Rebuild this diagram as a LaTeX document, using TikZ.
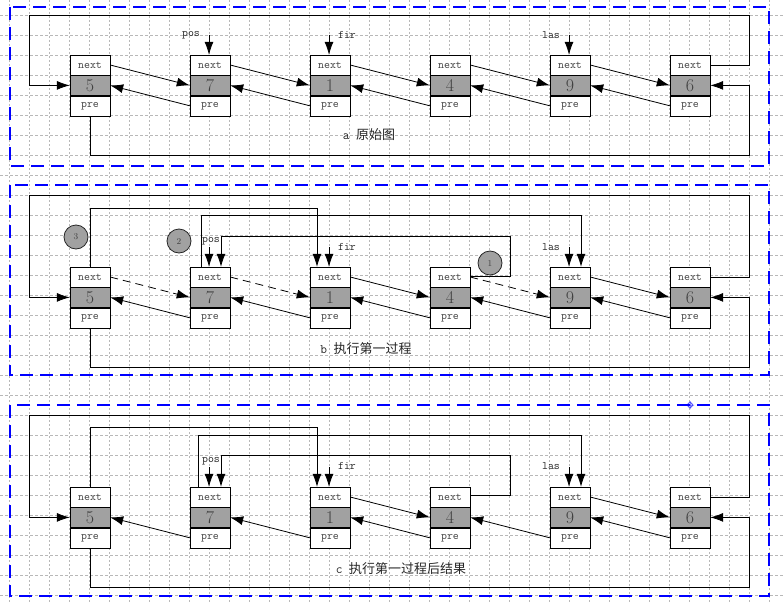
\documentclass[tikz,border=0pt]{standalone}
\usepackage{fontspec}
\newfontfamily\cjk{Noto Sans CJK SC}
\usepackage{tikz}
\usetikzlibrary{arrows.meta,positioning,calc}

\begin{document}
\begin{tikzpicture}[x=1pt,y=-1pt,
  cell/.style={draw, minimum width=40pt, minimum height=20pt, inner sep=0pt, fill=white, text=black!75, font=\ttfamily\fontsize{11.5}{11.5}\selectfont},
  valcell/.style={cell, fill=black!37, font=\rmfamily\fontsize{18}{18}\selectfont},
  arr/.style={-{Latex[length=13pt,width=9pt]}, line width=0.8pt},
  dasharr/.style={arr, dash pattern=on 8pt off 5pt},
  ptrlabel/.style={font=\ttfamily\fontsize{11.5}{11.5}\selectfont, text=black!85, inner sep=0pt},
  caption/.style={font=\ttfamily\fontsize{13}{13}\selectfont, text=black!85, inner sep=0pt},
  numcircle/.style={circle, draw=black!85, line width=0.8pt, fill=black!37, minimum size=24pt, inner sep=0pt, text=black!75, font=\rmfamily\fontsize{9}{9}\selectfont},
  frame/.style={draw=blue, line width=1.6pt, dash pattern=on 13pt off 7pt},
  gridv/.style={black!28, line width=0.6pt, dash pattern=on 2pt off 2pt},
  gridh/.style={black!28, line width=0.6pt, dash pattern=on 3pt off 2pt}]

\useasboundingbox (0,0) rectangle (783,602);
\fill[white] (0,0) rectangle (783,602);

% Grid
\foreach \x in {0,...,38} \draw[gridv] ({9.5+20*\x},0) -- ({9.5+20*\x},602);
\foreach \y in {0,...,29} \draw[gridh] (0,{15+20*\y}) -- (783,{15+20*\y});

% Panels
\draw[frame] (10,7) rectangle (769,166);
\draw[frame] (10,185) rectangle (769,375);
\draw[frame] (10,405) rectangle (769,596);
\draw[blue, line width=0.5pt] (690,405) circle (2.5pt) (686,405) -- (694,405) (690,401) -- (690,409);

% List nodes
\foreach \p/\y in {a/65,b/277,c/497} {
  \foreach \v [count=\i] in {5,7,1,4,9,6} {
    \node[cell] (\p\i-n) at ({90+120*(\i-1)},\y) {next};
    \node[valcell, below=0pt of \p\i-n] (\p\i-v) {\v};
    \node[cell, below=0pt of \p\i-v] (\p\i-p) {pre};
  }
}

% Pre links and outer loops
\foreach \p/\t/\b in {a/15/155,b/195/367,c/415/587} {
  \foreach \i [evaluate=\i as \j using int(\i+1)] in {1,...,5}
    \draw[arr] (\p\j-p.west) -- (\p\i-v.east);
  \draw[arr] (\p6-n.east) -| (749,\t) -| ([xshift=-40pt]\p1-v.west) -- (\p1-v.west);
  \draw[arr] (\p1-p.south) |- (749,\b) |- (\p6-v.east);
}

% a: original list
\foreach \i/\j in {1/2,2/3,3/4,4/5,5/6} \draw[arr] (a\i-n.east) -- (a\j-v.west);
\coordinate (apos) at (209,35);
\coordinate (afir) at (329,35);
\coordinate (alas) at (569,35);
\node[ptrlabel] (apos-l) at (191,35) {pos};
\node[ptrlabel] (afir-l) at (347,35) {fir};
\node[ptrlabel] (alas-l) at (551,35) {las};
\draw[arr] (apos) -- (apos |- a2-n.north);
\draw[arr] (afir) -- (afir |- a3-n.north);
\draw[arr] (alas) -- (alas |- a5-n.north);
\node[caption] (a-cap) at (369,135) {a {\cjk 原始图}};

% b: first step
\draw[dasharr] (b1-n.east) -- (b2-v.west);
\draw[dasharr] (b2-n.east) -- (b3-v.west);
\draw[arr] (b3-n.east) -- (b4-v.west);
\draw[dasharr] (b4-n.east) -- (b5-v.west);
\draw[arr] (b5-n.east) -- (b6-v.west);
\draw[arr] (b1-n.north) -- ++(0,-58) -| ([xshift=-13pt]b3-n.north);
\draw[arr] ([xshift=-9pt]b2-n.north) -- ++(0,-51) -| ([xshift=11pt]b5-n.north);
\draw[arr] ([yshift=1pt]b4-n.east) -- ++(40,0) -- ++(0,-40) -| ([xshift=11pt]b2-n.north);
\node[numcircle] (b-s3) at (76,237) {3};
\node[numcircle] (b-s2) at (179,241) {2};
\node[numcircle] (b-s1) at (490,263) {1};
\coordinate (bpos) at (209,247);
\coordinate (bfir) at (329,247);
\coordinate (blas) at (569,247);
\node[ptrlabel] (bpos-l) at (211,241) {pos};
\node[ptrlabel] (bfir-l) at (347,247) {fir};
\node[ptrlabel] (blas-l) at (551,247) {las};
\draw[arr] (bpos) -- (bpos |- b2-n.north);
\draw[arr] (bfir) -- (bfir |- b3-n.north);
\draw[arr] (blas) -- (blas |- b5-n.north);
\node[caption] (b-cap) at (366,349) {b {\cjk 执行第一过程}};

% c: result of first step
\draw[arr] (c3-n.east) -- (c4-v.west);
\draw[arr] (c5-n.east) -- (c6-v.west);
\draw[arr] (c1-n.north) -- ++(0,-59) -| ([xshift=-13pt]c3-n.north);
\draw[arr] ([xshift=-12pt]c2-n.north) -- ++(0,-51) -| ([xshift=11pt]c5-n.north);
\draw[arr] ([yshift=2pt]c4-n.east) -- ++(40,0) -- ++(0,-40) -| ([xshift=11pt]c2-n.north);
\coordinate (cpos) at (209,467);
\coordinate (cfir) at (329,467);
\coordinate (clas) at (569,467);
\node[ptrlabel] (cpos-l) at (211,461) {pos};
\node[ptrlabel] (cfir-l) at (347,466) {fir};
\node[ptrlabel] (clas-l) at (551,466) {las};
\draw[arr] (cpos) -- (cpos |- c2-n.north);
\draw[arr] (cfir) -- (cfir |- c3-n.north);
\draw[arr] (clas) -- (clas |- c5-n.north);
\node[caption] (c-cap) at (401,569) {c {\cjk 执行第一过程后结果}};
\end{tikzpicture}
\end{document}
